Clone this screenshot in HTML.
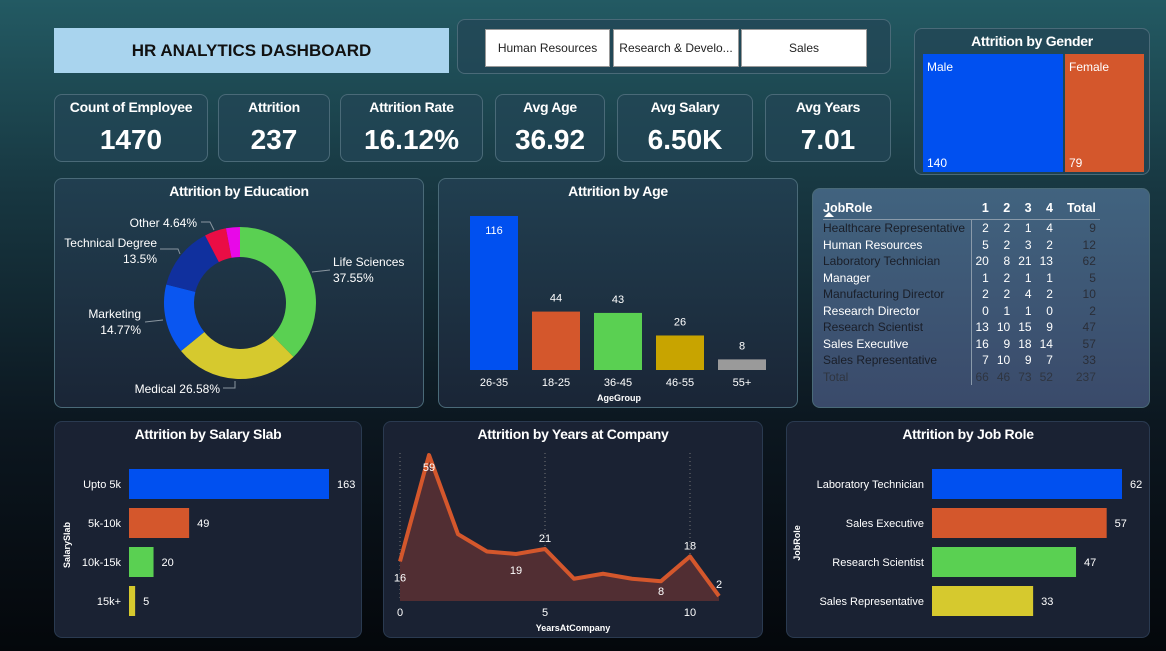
<!DOCTYPE html>
<html><head><meta charset="utf-8"><style>
*{margin:0;padding:0;box-sizing:border-box}
body{width:1166px;height:651px;overflow:hidden;font-family:"Liberation Sans",sans-serif;background:linear-gradient(180deg,#235a63 0%,#173640 30%,#0c1720 65%,#04070b 100%);position:relative;color:#fff}
.p{position:absolute;border:1px solid #4a6a78;border-radius:8px}
.k{background:rgba(35,70,85,.75)}
.d{background:#1a2233;border-color:#2a3a50}
.t{position:absolute;left:0;right:0;text-align:center;font-weight:bold;font-size:14px;letter-spacing:-0.3px}
.kpi .l{position:absolute;top:4px;left:0;right:0;text-align:center;font-weight:bold;font-size:14px;letter-spacing:-0.3px}
.kpi .v{position:absolute;top:29px;left:0;right:0;text-align:center;font-size:28px;font-weight:bold}
.btn{position:absolute;top:9px;height:38px;background:#fff;color:#222;font-size:12px;display:flex;align-items:center;justify-content:center;border:1px solid #999}
table{position:absolute;left:10px;top:8px;border-collapse:collapse;font-size:12px}
td{padding:0 4px;line-height:16.5px;text-align:right}
td:first-child{text-align:left;padding-left:0;border-right:1px solid #8a9aaa}
tr.h td{font-weight:bold;color:#fff;font-size:12.5px;line-height:22px;border-bottom:1px solid #8a9aaa}
tr.a td:first-child{color:#1a1e28}tr.b td:first-child{color:#fff}
tr td{color:#fff}tr.a td:last-child,tr.b td:last-child{color:#2a2e38}
tr.tot td{color:#2f3540}
</style></head><body>
<div class="p" style="left:54px;top:28px;width:395px;height:45px;background:#a9d4ee;border-radius:0;border:none;color:#111;font-weight:bold;font-size:17px;display:flex;align-items:center;justify-content:center">HR ANALYTICS DASHBOARD</div>
<div class="p k" style="left:457px;top:19px;width:434px;height:55px">
<div class="btn" style="left:27px;width:125px">Human Resources</div>
<div class="btn" style="left:155px;width:126px">Research &amp; Develo...</div>
<div class="btn" style="left:283px;width:126px">Sales</div>
</div>
<div class="p k" style="left:914px;top:28px;width:236px;height:147px">
<div class="t" style="top:4px">Attrition by Gender</div>
<div style="position:absolute;left:8px;top:25px;width:140px;height:118px;background:#0050f0;font-size:12px"><span style="position:absolute;left:4px;top:6px">Male</span><span style="position:absolute;left:4px;bottom:2px">140</span></div>
<div style="position:absolute;left:150px;top:25px;width:79px;height:118px;background:#d4572c;font-size:12px"><span style="position:absolute;left:4px;top:6px">Female</span><span style="position:absolute;left:4px;bottom:2px">79</span></div>
</div>
<div class="p k kpi" style="left:54px;top:94px;width:154px;height:68px"><div class="l">Count of Employee</div><div class="v">1470</div></div>
<div class="p k kpi" style="left:218px;top:94px;width:112px;height:68px"><div class="l">Attrition</div><div class="v">237</div></div>
<div class="p k kpi" style="left:340px;top:94px;width:143px;height:68px"><div class="l">Attrition Rate</div><div class="v">16.12%</div></div>
<div class="p k kpi" style="left:495px;top:94px;width:110px;height:68px"><div class="l">Avg Age</div><div class="v">36.92</div></div>
<div class="p k kpi" style="left:617px;top:94px;width:136px;height:68px"><div class="l">Avg Salary</div><div class="v">6.50K</div></div>
<div class="p k kpi" style="left:765px;top:94px;width:126px;height:68px"><div class="l">Avg Years</div><div class="v">7.01</div></div>

<div class="p k" style="left:54px;top:178px;width:370px;height:230px;background:linear-gradient(#213f50,#1a2536)"><div class="t" style="top:4px">Attrition by Education</div></div>
<div class="p k" style="left:438px;top:178px;width:360px;height:230px;background:linear-gradient(#213f50,#1a2536)"><div class="t" style="top:4px">Attrition by Age</div></div>
<div class="p k" style="left:812px;top:188px;width:338px;height:220px;background:linear-gradient(#41637f,#3a4a6a)">
<table>
<tr class="h"><td style="width:148px;border-right:none">JobRole<br></td><td>1</td><td>2</td><td>3</td><td>4</td><td style="padding-left:10px">Total</td></tr>
<tr class="a"><td>Healthcare Representative</td><td>2</td><td>2</td><td>1</td><td>4</td><td>9</td></tr>
<tr class="b"><td>Human Resources</td><td>5</td><td>2</td><td>3</td><td>2</td><td>12</td></tr>
<tr class="a"><td>Laboratory Technician</td><td>20</td><td>8</td><td>21</td><td>13</td><td>62</td></tr>
<tr class="b"><td>Manager</td><td>1</td><td>2</td><td>1</td><td>1</td><td>5</td></tr>
<tr class="a"><td>Manufacturing Director</td><td>2</td><td>2</td><td>4</td><td>2</td><td>10</td></tr>
<tr class="b"><td>Research Director</td><td>0</td><td>1</td><td>1</td><td>0</td><td>2</td></tr>
<tr class="a"><td>Research Scientist</td><td>13</td><td>10</td><td>15</td><td>9</td><td>47</td></tr>
<tr class="b"><td>Sales Executive</td><td>16</td><td>9</td><td>18</td><td>14</td><td>57</td></tr>
<tr class="a"><td>Sales Representative</td><td>7</td><td>10</td><td>9</td><td>7</td><td>33</td></tr>
<tr class="tot"><td>Total</td><td>66</td><td>46</td><td>73</td><td>52</td><td>237</td></tr>
</table></div>

<div class="p d" style="left:54px;top:421px;width:308px;height:217px"><div class="t" style="top:4px">Attrition by Salary Slab</div></div>
<div class="p d" style="left:383px;top:421px;width:380px;height:217px"><div class="t" style="top:4px">Attrition by Years at Company</div></div>
<div class="p d" style="left:786px;top:421px;width:364px;height:217px"><div class="t" style="top:4px">Attrition by Job Role</div></div>

<svg id="s" width="1166" height="651" style="position:absolute;left:0;top:0" font-family="Liberation Sans, sans-serif"></svg>
<script>
const eduCats=["Life Sciences","Medical","Marketing","Technical Degree","Other","Human Resources"];
const eduVals=[37.55,26.58,14.77,13.5,4.64,2.96];
const eduColors=["#5ad052","#d6c92e","#0a56f0","#10309e","#ea0d45","#e808e8"];
const ageCats=["26-35","18-25","36-45","46-55","55+"];
const ageVals=[116,44,43,26,8];
const ageColors=["#0050f0","#d4572c","#5ad052","#c8a400","#9a9a9a"];
const salCats=["Upto 5k","5k-10k","10k-15k","15k+"];
const salVals=[163,49,20,5];
const salColors=["#0050f0","#d4572c","#5ad052","#d6c92e"];
const yrsX=[0,1,2,3,4,5,6,7,8,9,10,11];
const yrsVals=[16,59,27,20,19,21,9,11,9,8,18,2];
const yrsLabelIdx=[0,1,4,5,9,10,11];
const jobCats=["Laboratory Technician","Sales Executive","Research Scientist","Sales Representative"];
const jobVals=[62,57,47,33];
const jobColors=["#0050f0","#d4572c","#5ad052","#d6c92e"];
const S=document.getElementById('s');const NS="http://www.w3.org/2000/svg";
function mk(t,a,txt){const e=document.createElementNS(NS,t);for(const k in a)e.setAttribute(k,a[k]);if(txt!=null)e.textContent=txt;S.appendChild(e);return e;}
// donut
const cx=240,cy=303,R=76,r=46;let acc=0;const tot=eduVals.reduce((a,b)=>a+b,0);
eduVals.forEach((v,i)=>{const a0=acc/tot*2*Math.PI,a1=(acc+v)/tot*2*Math.PI;acc+=v;
const p=(a,rr)=>[cx+rr*Math.sin(a),cy-rr*Math.cos(a)];const L=(a1-a0)>Math.PI?1:0;
const [x0,y0]=p(a0,R),[x1,y1]=p(a1,R),[x2,y2]=p(a1,r),[x3,y3]=p(a0,r);
const e=mk('path',{d:`M${x0},${y0}A${R},${R} 0 ${L} 1 ${x1},${y1}L${x2},${y2}A${r},${r} 0 ${L} 0 ${x3},${y3}Z`,fill:eduColors[i]});

});
const eduLab=[[333,266,"start",["Life Sciences",eduVals[0]+"%"]],[220,393,"end",["Medical "+eduVals[1]+"%"]],[141,318,"end",["Marketing",eduVals[2]+"%"]],[157,247,"end",["Technical Degree",eduVals[3]+"%"]],[197,227,"end",["Other "+eduVals[4]+"%"]]];
eduLab.forEach((l,i)=>{l[3].forEach((s,j)=>{const e=mk('text',{x:l[0],y:l[1]+j*16,fill:'#fff','font-size':12,'text-anchor':l[2]},s);

});});
[[ "M312,272L330,270"],["M223,388L235,388L235,381"],["M145,322L163,320"],["M160,249L178,249L180,254"],["M201,222L210,222L214,230"]].forEach(d=>mk('path',{d:d[0],stroke:'#8a96a0',fill:'none'}));
// age bars
const aBase=370,aScale=154/116,aX0=470,aStep=62,aW=48;
ageVals.forEach((v,i)=>{const x=aX0+i*aStep,h=v*aScale;
const b=mk('rect',{x:x,y:aBase-h,width:aW,height:h,fill:ageColors[i]});


const ly=(aBase-h-10<212)?aBase-h+18:aBase-h-10;
mk('text',{x:x+aW/2,y:ly,fill:'#fff','font-size':11,'text-anchor':'middle'},v);
mk('text',{x:x+aW/2,y:386,fill:'#fff','font-size':11,'text-anchor':'middle'},ageCats[i]);});
const at=mk('text',{x:619,y:401,fill:'#fff','font-size':9,'font-weight':'bold','text-anchor':'middle'},"AgeGroup");


// salary
const sX0=129,sScale=200/163,sY0=484,sStep=39,sH=30;
salVals.forEach((v,i)=>{const y=sY0+i*sStep,w=v*sScale;
const b=mk('rect',{x:sX0,y:y-sH/2,width:w,height:sH,fill:salColors[i]});


mk('text',{x:sX0+w+8,y:y+4,fill:'#fff','font-size':11},v);
mk('text',{x:121,y:y+4,fill:'#fff','font-size':11,'text-anchor':'end'},salCats[i]);});
const st=mk('text',{x:70,y:545,fill:'#fff','font-size':9,'font-weight':'bold','text-anchor':'middle',transform:'rotate(-90 70 545)'},"SalarySlab");


// years area
const yx=v=>400+v*29,yy=v=>601-v*146/59;
[0,5,10].forEach(t=>{mk('line',{x1:yx(t),x2:yx(t),y1:453,y2:601,stroke:'#777','stroke-dasharray':'1 3'});
mk('text',{x:yx(t),y:616,fill:'#fff','font-size':11,'text-anchor':'middle'},t);});
let pts=yrsX.map((x,i)=>yx(x)+','+yy(yrsVals[i])).join(' ');
const ar=mk('polygon',{points:yx(0)+','+601+' '+pts+' '+yx(yrsX[yrsX.length-1])+','+601,fill:'#512e33'});


const ln=mk('polyline',{points:pts,fill:'none',stroke:'#d4572c','stroke-width':4,'stroke-linejoin':'round'});


const off={0:[0,20],1:[0,16],4:[0,20],5:[0,-7],9:[0,14],10:[0,-7],11:[0,-8]};
yrsLabelIdx.forEach(i=>{const o=off[i];mk('text',{x:yx(yrsX[i])+o[0],y:yy(yrsVals[i])+o[1],fill:'#fff','font-size':11,'text-anchor':'middle'},yrsVals[i]);});
const yt=mk('text',{x:573,y:631,fill:'#fff','font-size':9,'font-weight':'bold','text-anchor':'middle'},"YearsAtCompany");


// job role
const jX0=932,jScale=190/62;
jobVals.forEach((v,i)=>{const y=sY0+i*sStep,w=v*jScale;
const b=mk('rect',{x:jX0,y:y-sH/2,width:w,height:sH,fill:jobColors[i]});


mk('text',{x:jX0+w+8,y:y+4,fill:'#fff','font-size':11},v);
mk('text',{x:924,y:y+4,fill:'#fff','font-size':11,'text-anchor':'end'},jobCats[i]);});
const jt=mk('text',{x:800,y:543,fill:'#fff','font-size':9,'font-weight':'bold','text-anchor':'middle',transform:'rotate(-90 800 543)'},"JobRole");


mk('path',{d:'M824,217L829,212L834,217Z',fill:'#fff'});
</script>
</body></html>
